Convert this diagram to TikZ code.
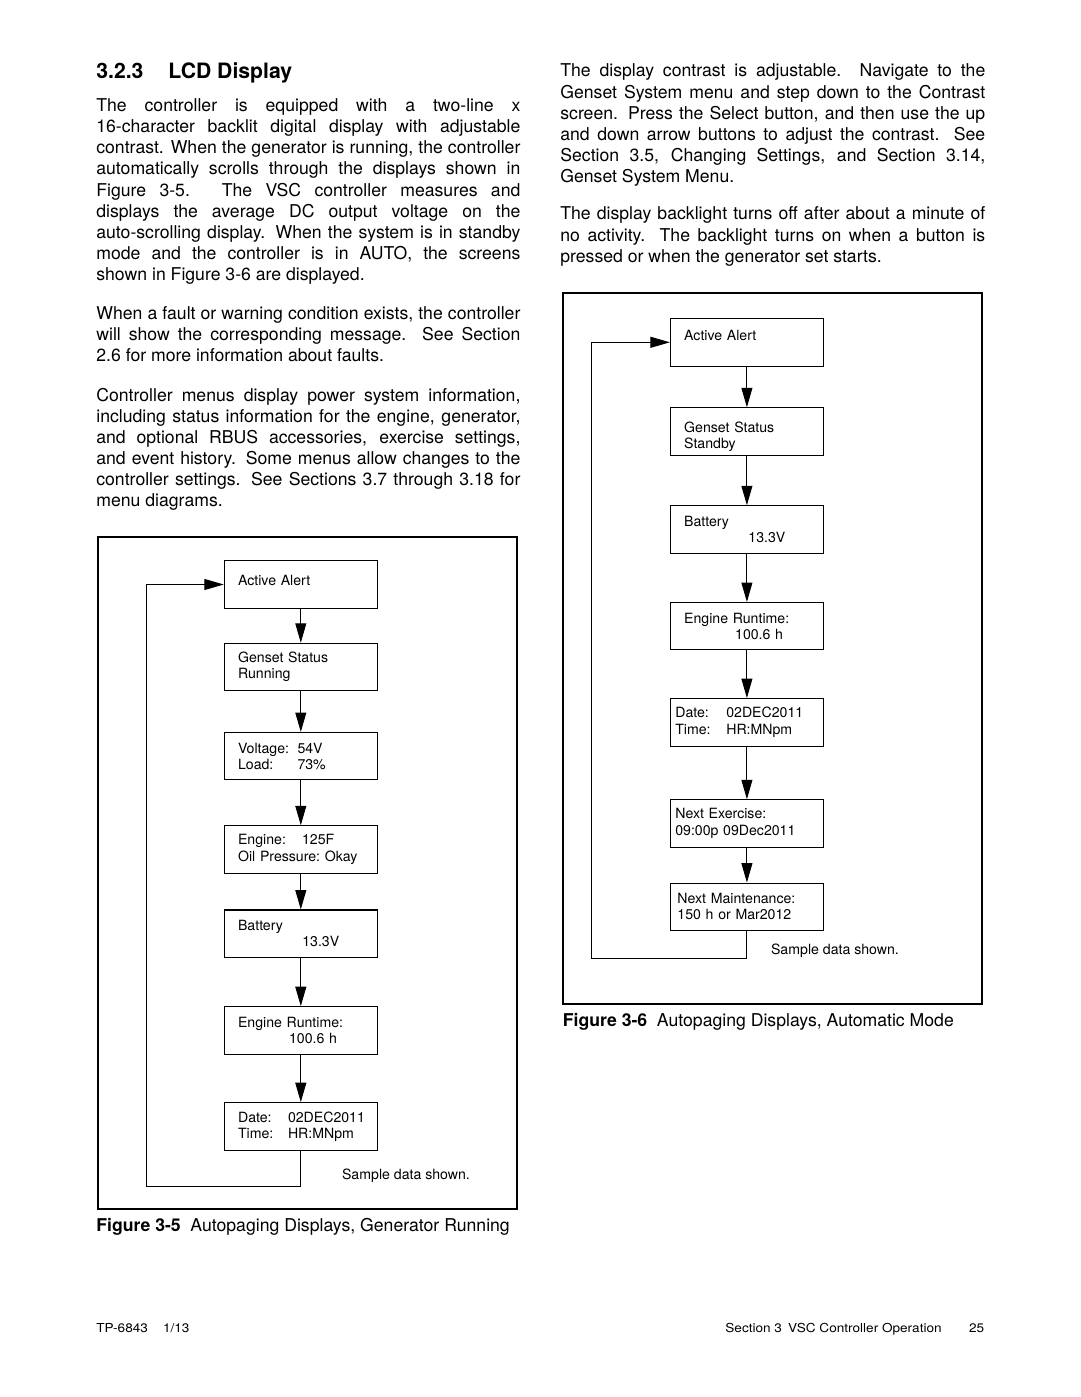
\documentclass[tikz,border=0pt]{standalone}
\usepackage{fontspec}
\setmainfont{TeX Gyre Heros}
\newfontfamily\footfont[FakeStretch=1.1]{TeX Gyre Heros}
\usepackage{tikz}
\usetikzlibrary{arrows.meta}
\setlength\parindent{0pt}
\tolerance=10000
\hyphenpenalty=10000
\exhyphenpenalty=10000

\tikzset{
  screen/.style={draw, line width=0.6pt, minimum height=26.9pt,
    text width=71.1pt, inner xsep=7.8pt, inner ysep=0pt, align=left,
    font=\fontsize{8}{9.2}\selectfont\frenchspacing},
  nextarrow/.style={-{Triangle[length=11pt,width=6.2pt]}, line width=0.55pt},
  figframe/.style={line width=1.1pt},
  para/.style={anchor=north west, inner sep=0pt, align=justify,
    font=\fontsize{10}{12}\selectfont},
  note/.style={anchor=base west, inner sep=0pt, font=\fontsize{8}{9.2}\selectfont},
  caption/.style={anchor=base west, inner sep=0pt, font=\fontsize{10}{12}\selectfont},
  foot/.style={inner sep=0pt, font=\footfont\fontsize{7}{9}\selectfont}
}

\begin{document}
\begin{tikzpicture}[x=0.56667pt, y=-0.56667pt]

  \newcommand\xRun{300.8}
  \newcommand\xAuto{746.9}

  \fill[white] (0,0) rectangle (1080,1397);
  \useasboundingbox (0,0) rectangle (1080,1397);

  % heading
  \node[anchor=base west, inner sep=0pt, font=\fontsize{12}{14}\selectfont\bfseries] (secnum) at (96,78.3) {3.2.3};
  \node[anchor=base west, inner sep=0pt, font=\fontsize{12}{14}\selectfont\bfseries] (sectitle) at (168,78.3) {LCD Display};

  % left column
  \node[para, text width=240.3pt] (lpar1) at (96,96.2) {\strut The controller is equipped with a two-line x\linebreak
    16-character backlit digital display with adjustable\linebreak
    contrast. When the generator is running, the controller\linebreak
    automatically scrolls through the displays shown in\linebreak
    Figure 3-5. The VSC controller measures and\linebreak
    displays the average DC output voltage on the\linebreak
    auto-scrolling display. When the system is in standby\linebreak
    mode and the controller is in AUTO, the screens\linebreak
    shown in Figure 3-6 are displayed.};
  \node[para, text width=240.3pt] (lpar2) at (96,304.4) {\strut When a fault or warning condition exists, the controller\linebreak
    will show the corresponding message. See Section\linebreak
    2.6 for more information about faults.};
  \node[para, text width=240.3pt] (lpar3) at (96,385.9) {\strut Controller menus display power system information,\linebreak
    including status information for the engine, generator,\linebreak
    and optional RBUS accessories, exercise settings,\linebreak
    and event history. Some menus allow changes to the\linebreak
    controller settings. See Sections 3.7 through 3.18 for\linebreak
    menu diagrams.};

  % right column
  \node[para, text width=240.8pt] (rpar1) at (560,61.7) {\strut The display contrast is adjustable. Navigate to the\linebreak
    Genset System menu and step down to the Contrast\linebreak
    screen. Press the Select button, and then use the up\linebreak
    and down arrow buttons to adjust the contrast. See\linebreak
    Section 3.5, Changing Settings, and Section 3.14,\linebreak
    Genset System Menu.};
  \node[para, text width=240.8pt] (rpar2) at (560,204.7) {\strut The display backlight turns off after about a minute of\linebreak
    no activity. The backlight turns on when a button is\linebreak
    pressed or when the generator set starts.};

  % Figure 3-5
  \draw[figframe] (98,537) rectangle (517,1209);
  \node[screen, text height=7pt, text depth=6pt] (run1) at (\xRun,584.5) {Active Alert};
  \node[screen] (run2) at (\xRun,667) {Genset Status\\Running};
  \node[screen] (run3) at (\xRun,756.2) {\makebox[33.7pt][l]{Voltage:}54V\\\makebox[33.7pt][l]{Load:}73\%};
  \node[screen] (run4) at (\xRun,849.5) {\makebox[36.3pt][l]{Engine:}125F\\Oil Pressure: Okay};
  \node[screen] (run5) at (\xRun,933.7) {Battery\\\hspace*{36.4pt}13.3V};
  \node[screen] (run6) at (\xRun,1030.4) {Engine Runtime:\\\hspace*{28.9pt}100.6 h};
  \node[screen] (run7) at (\xRun,1126.4) {\makebox[28.3pt][l]{Date:}02DEC2011\\\makebox[28.3pt][l]{Time:}HR:MNpm};
  \coordinate (runloop) at (146,1186);

  \draw[nextarrow] (run1) -- (run2); %% alert->status
  \draw[nextarrow] (run2) -- (run3); %% status->voltage
  \draw[nextarrow] (run3) -- (run4); %% voltage->engine
  \draw[nextarrow] (run4) -- (run5); %% engine->battery
  \draw[nextarrow] (run5) -- (run6); %% battery->runtime
  \draw[nextarrow] (run6) -- (run7); %% runtime->date
  \draw[nextarrow] (run7.south) |- (runloop) |- (run1.west); % back to top

  \node[note] (runnote) at (341.7,1179) {Sample data shown.};
  \node[caption] (runcap) at (96,1231) {\textbf{Figure 3-5}\hspace{5.5pt}Autopaging Displays, Generator Running};

  % Figure 3-6
  \draw[figframe] (562.7,293.3) rectangle (981.7,1004.3);
  \node[screen, text height=6pt, text depth=7.5pt] (auto1) at (\xAuto,342.3) {Active Alert};
  \node[screen, text height=7pt, text depth=5.9pt] (auto2) at (\xAuto,431.5) {Genset Status\\Standby};
  \node[screen] (auto3) at (\xAuto,529.5) {Battery\\\hspace*{36.4pt}13.3V};
  \node[screen] (auto4) at (\xAuto,626.2) {Engine Runtime:\\\hspace*{28.9pt}100.6 h};
  \node[screen, inner xsep=2.8pt, text width=81.1pt] (auto5) at (\xAuto,722.3) {\makebox[28.9pt][l]{Date:}02DEC2011\\\makebox[28.9pt][l]{Time:}HR:MNpm};
  \node[screen, inner xsep=2.8pt, text width=81.1pt] (auto6) at (\xAuto,823.5) {Next Exercise:\\09:00p 09Dec2011};
  \node[screen, inner xsep=4pt, text width=78.7pt] (auto7) at (\xAuto,906.8) {Next Maintenance:\\150 h or Mar2012};
  \coordinate (autoloop) at (591.7,958.3);

  \draw[nextarrow] (auto1) -- (auto2); %% alert->status
  \draw[nextarrow] (auto2) -- (auto3); %% status->battery
  \draw[nextarrow] (auto3) -- (auto4); %% battery->runtime
  \draw[nextarrow] (auto4) -- (auto5); %% runtime->date
  \draw[nextarrow] (auto5) -- (auto6); %% date->exercise
  \draw[nextarrow] (auto6) -- (auto7); %% exercise->maintenance
  \draw[nextarrow] (auto7.south) |- (autoloop) |- (auto1.west); % back to top

  \node[note] (autonote) at (770.7,954) {Sample data shown.};
  \node[caption] (autocap) at (562.5,1026.5) {\textbf{Figure 3-6}\hspace{5.5pt}Autopaging Displays, Automatic Mode};

  % footer
  \node[foot, anchor=base west] (docnum) at (96,1332.7) {TP-6843};
  \node[foot, anchor=base west] (docdate) at (162.7,1332.7) {1/13};
  \node[foot, anchor=base east] (section) at (942,1332.7) {Section 3\hspace{0.5em}VSC Controller Operation};
  \node[foot, anchor=base east] (pagenum) at (984.5,1332.7) {25};

\end{tikzpicture}
\end{document}
